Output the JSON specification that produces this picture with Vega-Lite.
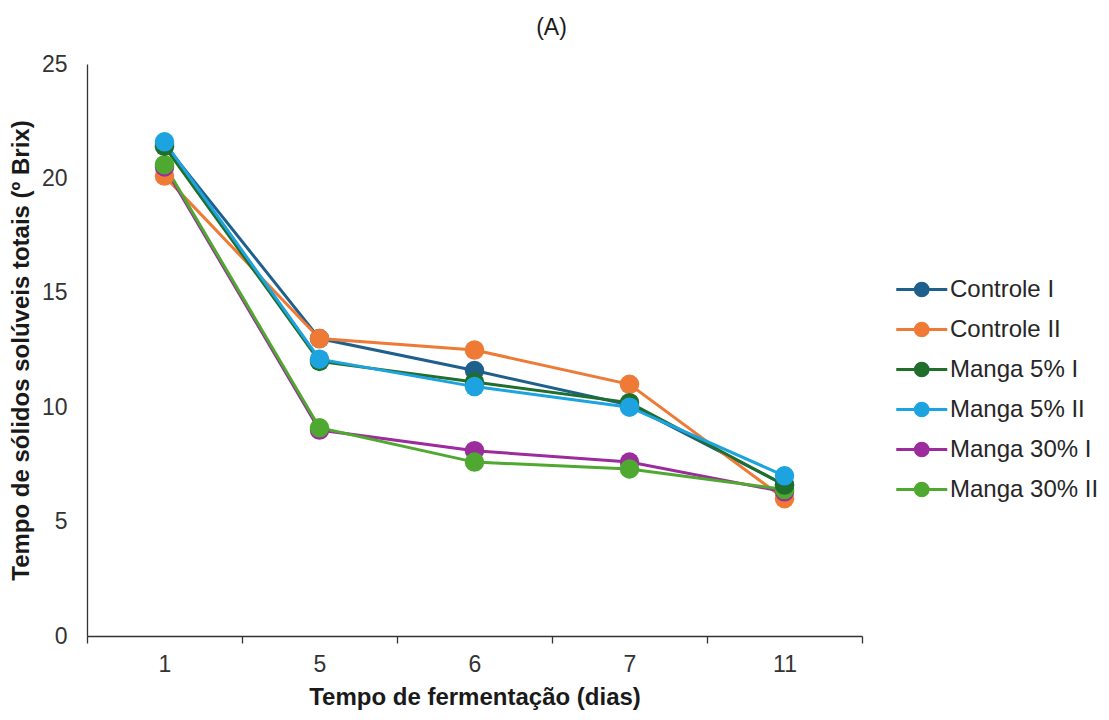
{
  "$schema": "https://vega.github.io/schema/vega-lite/v6.json",
  "autosize": {"type": "none"},
  "width": 775,
  "height": 572,
  "padding": {"left": 87, "top": 64, "right": 247, "bottom": 84},
  "background": "white",
  "title": {"text": "(A)", "font": "Liberation Sans", "fontSize": 23, "fontWeight": "normal", "color": "#1a1a1a", "offset": 13, "dx": 77},
  "config": {"view": {"stroke": null}, "font": "Liberation Sans"},
  "data": {"values": [
    {"dia": "1", "serie": "Controle I", "brix": 21.5},
    {"dia": "5", "serie": "Controle I", "brix": 13.0},
    {"dia": "6", "serie": "Controle I", "brix": 11.6},
    {"dia": "7", "serie": "Controle I", "brix": 10.1},
    {"dia": "11", "serie": "Controle I", "brix": 6.6},
    {"dia": "1", "serie": "Controle II", "brix": 20.1},
    {"dia": "5", "serie": "Controle II", "brix": 13.0},
    {"dia": "6", "serie": "Controle II", "brix": 12.5},
    {"dia": "7", "serie": "Controle II", "brix": 11.0},
    {"dia": "11", "serie": "Controle II", "brix": 6.0},
    {"dia": "1", "serie": "Manga 5% I", "brix": 21.4},
    {"dia": "5", "serie": "Manga 5% I", "brix": 12.0},
    {"dia": "6", "serie": "Manga 5% I", "brix": 11.1},
    {"dia": "7", "serie": "Manga 5% I", "brix": 10.2},
    {"dia": "11", "serie": "Manga 5% I", "brix": 6.6},
    {"dia": "1", "serie": "Manga 5% II", "brix": 21.6},
    {"dia": "5", "serie": "Manga 5% II", "brix": 12.1},
    {"dia": "6", "serie": "Manga 5% II", "brix": 10.9},
    {"dia": "7", "serie": "Manga 5% II", "brix": 10.0},
    {"dia": "11", "serie": "Manga 5% II", "brix": 7.0},
    {"dia": "1", "serie": "Manga 30% I", "brix": 20.5},
    {"dia": "5", "serie": "Manga 30% I", "brix": 9.0},
    {"dia": "6", "serie": "Manga 30% I", "brix": 8.1},
    {"dia": "7", "serie": "Manga 30% I", "brix": 7.6},
    {"dia": "11", "serie": "Manga 30% I", "brix": 6.3},
    {"dia": "1", "serie": "Manga 30% II", "brix": 20.6},
    {"dia": "5", "serie": "Manga 30% II", "brix": 9.1},
    {"dia": "6", "serie": "Manga 30% II", "brix": 7.6},
    {"dia": "7", "serie": "Manga 30% II", "brix": 7.3},
    {"dia": "11", "serie": "Manga 30% II", "brix": 6.4}
  ]},
  "mark": {"type": "line", "strokeWidth": 3, "point": {"filled": true, "size": 380, "opacity": 1}},
  "encoding": {
    "x": {
      "field": "dia", "type": "ordinal", "sort": ["1", "5", "6", "7", "11"],
      "scale": {"type": "band", "paddingInner": 0, "paddingOuter": 0},
      "axis": {
        "title": "Tempo de fermentação (dias)", "titleFont": "Liberation Sans", "titleFontSize": 24, "titleFontWeight": "bold", "titleColor": "#1a1a1a", "titlePadding": 9,
        "labelAngle": 0, "labelFont": "Liberation Sans", "labelFontSize": 23, "labelColor": "#333", "labelPadding": 10,
        "tickBand": "extent", "ticks": true, "tickSize": 7, "tickColor": "#333", "tickWidth": 1.3,
        "domainColor": "#333", "domainWidth": 1.3, "grid": false
      }
    },
    "y": {
      "field": "brix", "type": "quantitative",
      "scale": {"domain": [0, 25], "nice": false},
      "axis": {
        "title": "Tempo de sólidos solúveis totais (º Brix)", "titleFont": "Liberation Sans", "titleFontSize": 24, "titleFontWeight": "bold", "titleColor": "#1a1a1a", "titlePadding": 8,
        "values": [0, 5, 10, 15, 20, 25], "labelFont": "Liberation Sans", "labelFontSize": 23, "labelColor": "#333", "labelPadding": 20,
        "ticks": false, "grid": false, "domainColor": "#333", "domainWidth": 1.3
      }
    },
    "color": {
      "field": "serie", "type": "nominal",
      "sort": ["Controle I", "Controle II", "Manga 5% I", "Manga 5% II", "Manga 30% I", "Manga 30% II"],
      "scale": {
        "domain": ["Controle I", "Controle II", "Manga 5% I", "Manga 5% II", "Manga 30% I", "Manga 30% II"],
        "range": ["#1F5F8B", "#EE7A36", "#1F6E2C", "#1CA3E0", "#9C2B9E", "#4FA82F"]
      },
      "legend": {
        "title": null, "orient": "none", "legendX": 833, "legendY": 211,
        "labelFont": "Liberation Sans", "labelFontSize": 24, "labelColor": "#262626", "labelOffset": 1,
        "rowPadding": 13, "symbolSize": 650, "symbolStrokeWidth": 3,
        "symbolType": "M-3,0H1M-1.5,0A0.5,0.5,0,1,1,-0.5,0A0.5,0.5,0,1,1,-1.5,0Z",
        "encode": {"symbols": {"update": {"fill": {"scale": "color", "field": "value"}, "fillOpacity": {"value": 1}}}}
      }
    },
    "order": {"field": "serie"}
  }
}
